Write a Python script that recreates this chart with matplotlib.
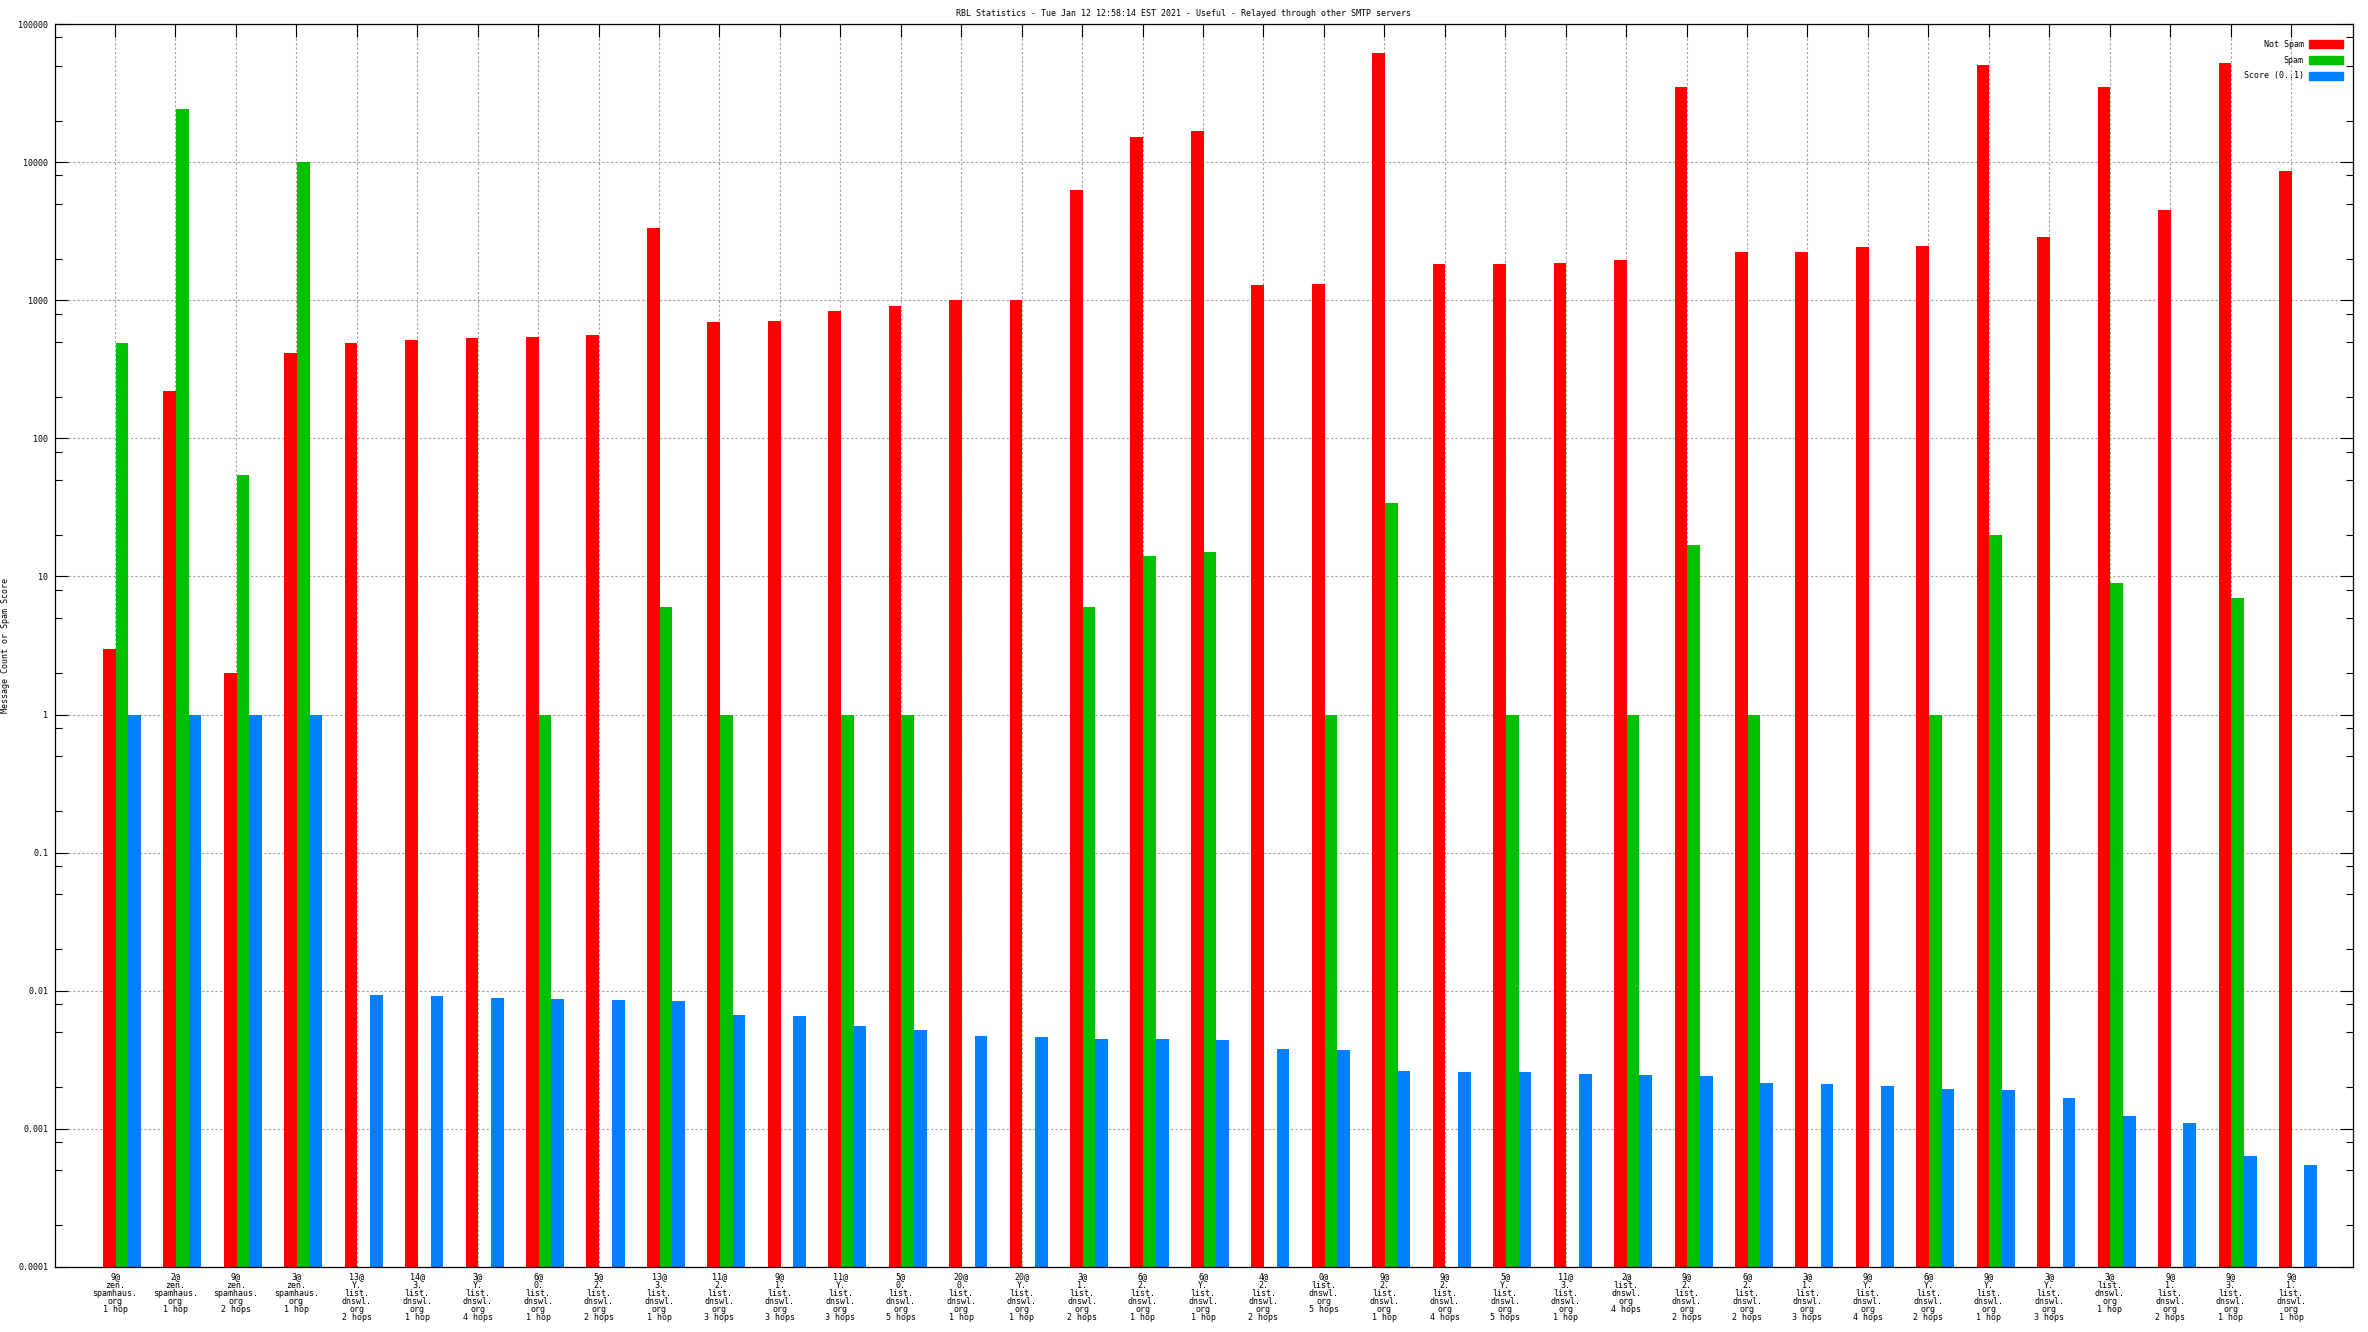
import numpy as np
import matplotlib
matplotlib.use("Agg")
import matplotlib.pyplot as plt
from matplotlib.patches import Patch
from matplotlib.ticker import LogLocator, FuncFormatter, NullFormatter, FixedLocator

# group labels: "<count>@", host, hops
prefixes = ["9@", "2@", "9@", "3@", "13@", "14@", "3@", "6@", "5@", "13@",
            "11@", "9@", "11@", "5@", "20@", "20@", "3@", "6@", "6@", "4@",
            "0@", "9@", "9@", "5@", "11@", "2@", "9@", "6@", "3@", "9@",
            "6@", "9@", "3@", "3@", "9@", "9@", "9@"]
hosts = ["zen.spamhaus.org", "zen.spamhaus.org", "zen.spamhaus.org", "zen.spamhaus.org",
         "Y.list.dnswl.org", "3.list.dnswl.org", "Y.list.dnswl.org", "0.list.dnswl.org",
         "2.list.dnswl.org", "3.list.dnswl.org", "2.list.dnswl.org", "1.list.dnswl.org",
         "Y.list.dnswl.org", "0.list.dnswl.org", "0.list.dnswl.org", "Y.list.dnswl.org",
         "1.list.dnswl.org", "2.list.dnswl.org", "Y.list.dnswl.org", "2.list.dnswl.org",
         "list.dnswl.org", "2.list.dnswl.org", "2.list.dnswl.org", "Y.list.dnswl.org",
         "3.list.dnswl.org", "list.dnswl.org", "2.list.dnswl.org", "2.list.dnswl.org",
         "1.list.dnswl.org", "Y.list.dnswl.org", "Y.list.dnswl.org", "Y.list.dnswl.org",
         "Y.list.dnswl.org", "list.dnswl.org", "1.list.dnswl.org", "3.list.dnswl.org",
         "1.list.dnswl.org"]
hops = [1, 1, 2, 1, 2, 1, 4, 1, 2, 1, 3, 3, 3, 5, 1, 1, 2, 1, 1, 2,
        5, 1, 4, 5, 1, 4, 2, 2, 3, 4, 2, 1, 3, 1, 2, 1, 1]

not_spam = [3, 220, 2, 413, 493, 518, 530, 545, 557, 3340,
            701, 713, 836, 902, 1000, 1010, 6270, 15100, 16700, 1280,
            1310, 61900, 1820, 1830, 1870, 1970, 34700, 2230, 2230, 2410,
            2470, 50700, 2870, 34700, 4520, 52000, 8690]
spam = [490, 24400, 54, 10100, np.nan, np.nan, np.nan, 1, np.nan, 6,
        1, np.nan, 1, 1, np.nan, np.nan, 6, 14, 15, np.nan,
        1, 34, np.nan, 1, np.nan, 1, 17, 1, np.nan, np.nan,
        1, 20, np.nan, 9, np.nan, 7, np.nan]
score = [1, 1, 1, 1, 0.0093, 0.0091, 0.0089, 0.0087, 0.0086, 0.0085,
         0.0067, 0.0066, 0.0056, 0.0052, 0.0047, 0.0046, 0.0045, 0.0045, 0.0044, 0.0038,
         0.0037, 0.00264, 0.0026, 0.0026, 0.0025, 0.00245, 0.0024, 0.00216, 0.0021, 0.00205,
         0.00195, 0.0019, 0.00168, 0.00124, 0.0011, 0.00064, 0.00055]


def make_label(p, h, n):
    parts = [s + "." for s in h.split(".")[:-1]] + [h.split(".")[-1]]
    return "\n".join([p] + parts + ["%d hop%s" % (n, "" if n == 1 else "s")])


labels = [make_label(p, h, n) for p, h, n in zip(prefixes, hosts, hops)]

plt.rcParams['font.family'] = ['DejaVu Sans Mono']
FS = 6

W, H = 2368, 1332
fig = plt.figure(figsize=(W / 100, H / 100), dpi=100)
ax = fig.add_axes([55 / W, 1 - 1267 / H, (2353 - 55) / W, (1267 - 24) / H])

x = np.arange(len(not_spam))
bw = 0.21
ax.bar(x - bw, not_spam, bw, color="#ff0000", label="Not Spam", zorder=2)
ax.bar(x, spam, bw, color="#00c000", label="Spam", zorder=2)
ax.bar(x + bw, score, bw, color="#0080ff", label="Score (0..1)", zorder=2)

ax.set_yscale("log")
ax.set_ylim(1e-4, 1e5)
ax.set_xlim(-1.108, 36.91)

ax.yaxis.set_major_locator(LogLocator(base=10, numticks=20))
ax.yaxis.set_minor_locator(LogLocator(base=10, subs=[2, 5, 8], numticks=20))
ax.yaxis.set_major_formatter(FuncFormatter(lambda v, p: "%g" % v))
ax.yaxis.set_minor_formatter(NullFormatter())

ax.xaxis.set_major_locator(FixedLocator(x - 0.115))
ax.set_xticklabels(labels, fontsize=FS, linespacing=0.88, ha="center")
ax.tick_params(axis="x", which="major", direction="in", length=9.5, width=0.8,
               top=True, bottom=False, labelbottom=True, pad=4)
ax.tick_params(axis="y", which="major", direction="in", length=9.5, width=0.8,
               left=True, right=True, labelsize=FS, pad=5)
ax.tick_params(axis="y", which="minor", direction="in", length=4.8, width=0.8,
               left=True, right=True)
ax.tick_params(axis="x", which="minor", bottom=False, top=False)

ax.grid(True, which="major", axis="both", color="#a0a0a0", linestyle=(0, (2, 2)),
        linewidth=0.8)
ax.set_axisbelow(True)
for s in ax.spines.values():
    s.set_linewidth(0.9)

fig.text(0.5, 1 - 13 / H, "RBL Statistics - Tue Jan 12 12:58:14 EST 2021 - Useful - Relayed through other SMTP servers",
         ha="center", va="center", fontsize=FS)
fig.text(6 / W, 1 - 645 / H, "Message Count or Spam Score", rotation=90,
         ha="center", va="center", fontsize=FS)

handles = [Patch(color="#ff0000", label="Not Spam"),
           Patch(color="#00c000", label="Spam"),
           Patch(color="#0080ff", label="Score (0..1)")]
ax.legend(handles=handles, loc="upper right", bbox_to_anchor=(1 - 10 / 2298, 1 - 16 / 1243),
          frameon=False, fontsize=FS, markerfirst=False, handlelength=4.1,
          handleheight=1.1, labelspacing=0.8, handletextpad=0.6,
          borderaxespad=0, borderpad=0)

fig.savefig("out.png", dpi=100)
